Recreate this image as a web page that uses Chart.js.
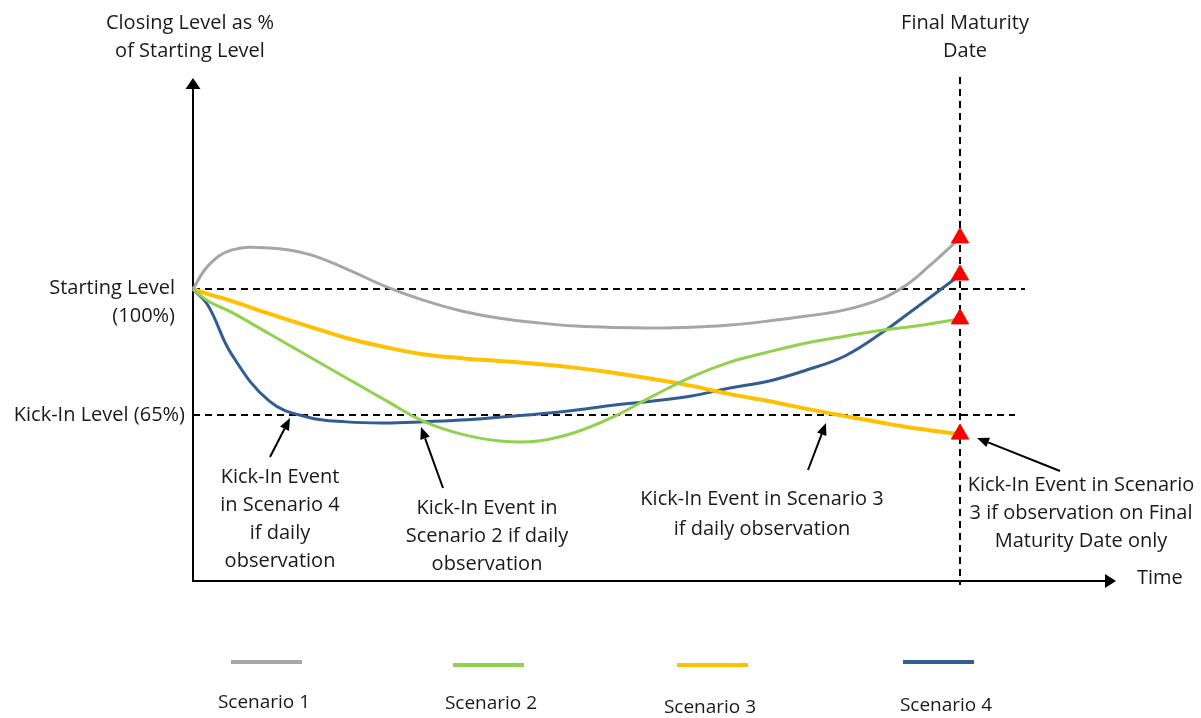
<!DOCTYPE html>
<html>
<head>
<meta charset="utf-8">
<script src="https://cdn.jsdelivr.net/npm/chart.js@4.4.1/dist/chart.umd.min.js"></script>
<style>
  body { margin: 0; background: #fff; }
  canvas { display: block; }
</style>
</head>
<body>
<canvas id="grafico" width="1201" height="718"></canvas>
<script>
// Tiempo (0 = inicio, 100 = Final Maturity Date)
const tiempos = [0, 2, 5, 10, 15, 20, 25, 30, 35, 40, 45, 50, 55, 60, 65, 70, 75, 80, 85, 90, 93, 96, 100];

// Nivel de cierre como % del nivel inicial
const escenario1 = [100, 106.5, 110.8, 111.4, 109.7, 105.6, 100.8, 96.9, 93.9, 91.9, 90.6, 89.7, 89.3, 89.2, 89.4, 90.0, 91.1, 92.5, 94.2, 97.5, 101.1, 106.4, 114.2];
const escenario2 = [100, 96.6, 93.6, 87.5, 81.4, 75.3, 69.2, 63.3, 59.7, 57.8, 57.8, 60.3, 64.7, 70.3, 75.6, 79.7, 82.5, 85.0, 86.9, 88.6, 89.4, 90.3, 91.7];
const escenario3 = [100, 98.6, 96.7, 93.1, 89.7, 86.4, 83.9, 81.9, 80.8, 80.0, 79.2, 78.1, 76.7, 75.0, 73.1, 70.8, 68.9, 66.7, 64.7, 62.8, 61.7, 60.8, 59.7];
const escenario4 = [100, 95.3, 82.0, 68.8, 64.4, 63.1, 62.8, 63.1, 63.6, 64.4, 65.3, 66.4, 67.8, 68.9, 70.3, 72.5, 74.4, 77.5, 81.4, 88.1, 92.8, 97.5, 103.9];

const nombres = ['Scenario 1', 'Scenario 2', 'Scenario 3', 'Scenario 4'];
const colores = ['#a6a6a6', '#92d050', '#ffc000', '#335c91'];
const grosores = [3, 3, 4, 3];

const nivelInicial = 100; // Starting Level
const nivelKickIn = 65;   // Kick-In Level
const fechaFinal = 100;   // Final Maturity Date

const FUENTE = '"Open Sans", "Noto Sans", sans-serif';
const TINTA = '#1a1a1a';

// Construye un dataset por escenario, con un triángulo rojo sólo en el último punto
function crearDataset(valores, i) {
    return {
        label: nombres[i],
        data: tiempos.map((t, k) => ({ x: t, y: valores[k] })),
        borderColor: colores[i],
        borderWidth: grosores[i],
        tension: 0.4,
        pointStyle: 'triangle',
        pointRadius: tiempos.map((t, k) => k === tiempos.length - 1 ? 10 : 0),
        pointBackgroundColor: '#ff0000',
        pointBorderColor: '#ff0000',
        pointBorderWidth: 1,
        clip: false
    };
}

// Dibuja una flecha de (x1,y1) a la punta (x2,y2)
function flecha(ctx, x1, y1, x2, y2, largo, ancho) {
    const ang = Math.atan2(y2 - y1, x2 - x1);
    const bx = x2 - Math.cos(ang) * largo;
    const by = y2 - Math.sin(ang) * largo;
    ctx.beginPath();
    ctx.moveTo(x1, y1);
    ctx.lineTo(bx, by);
    ctx.stroke();
    ctx.beginPath();
    ctx.moveTo(x2, y2);
    ctx.lineTo(bx + Math.sin(ang) * ancho, by - Math.cos(ang) * ancho);
    ctx.lineTo(bx - Math.sin(ang) * ancho, by + Math.cos(ang) * ancho);
    ctx.closePath();
    ctx.fill();
}

// Texto en varias líneas
function textoLineas(ctx, lineas, x, y, salto, alineacion) {
    ctx.textAlign = alineacion;
    lineas.forEach((l, i) => ctx.fillText(l, x, y + i * salto));
}

const decoracion = {
    id: 'decoracion',
    beforeDatasetsDraw(chart) {
        const ctx = chart.ctx;
        const sx = chart.scales.x, sy = chart.scales.y;
        const x0 = sx.getPixelForValue(0);
        const yBase = sy.bottom;
        ctx.save();
        ctx.strokeStyle = '#000';
        ctx.fillStyle = '#000';
        ctx.lineWidth = 2;

        // Líneas discontinuas de referencia
        ctx.setLineDash([7, 5]);
        const yIni = sy.getPixelForValue(nivelInicial);
        const yKick = sy.getPixelForValue(nivelKickIn);
        const xFin = sx.getPixelForValue(fechaFinal);
        ctx.beginPath(); ctx.moveTo(x0, yIni); ctx.lineTo(1025, yIni); ctx.stroke();
        ctx.beginPath(); ctx.moveTo(x0, yKick); ctx.lineTo(1015, yKick); ctx.stroke();
        ctx.beginPath(); ctx.moveTo(xFin, 77); ctx.lineTo(xFin, 585); ctx.stroke();
        ctx.setLineDash([]);

        // Ejes con flecha
        flecha(ctx, x0, yBase + 1, x0, 78, 11, 7.5);
        flecha(ctx, x0 - 1, yBase, 1116, yBase, 11, 7);
        ctx.restore();
    },
    afterDraw(chart) {
        const ctx = chart.ctx;
        ctx.save();
        ctx.fillStyle = TINTA;
        ctx.strokeStyle = '#000';
        ctx.textBaseline = 'middle';
        ctx.font = '20px ' + FUENTE;

        textoLineas(ctx, ['Closing Level as %', 'of Starting Level'], 190, 23, 28, 'center');
        textoLineas(ctx, ['Final Maturity', 'Date'], 965, 23, 28, 'center');
        textoLineas(ctx, ['Starting Level', '(100%)'], 175, 288, 28, 'right');
        textoLineas(ctx, ['Kick-In Level (65%)'], 185, 415, 28, 'right');
        textoLineas(ctx, ['Time'], 1137, 578, 28, 'left');

        textoLineas(ctx, ['Kick-In Event', 'in Scenario 4', 'if daily', 'observation'], 280, 477, 28, 'center');
        textoLineas(ctx, ['Kick-In Event in', 'Scenario 2 if daily', 'observation'], 487, 508, 28, 'center');
        textoLineas(ctx, ['Kick-In Event in Scenario 3', 'if daily observation'], 762, 499, 30, 'center');
        textoLineas(ctx, ['Kick-In Event in Scenario', '3 if observation on Final', 'Maturity Date only'], 1081, 485, 28, 'center');

        // Flechas de las anotaciones
        ctx.fillStyle = '#000';
        ctx.lineWidth = 2;
        flecha(ctx, 270, 457, 290, 418, 12, 5);
        flecha(ctx, 443, 488, 421, 427, 12, 5);
        flecha(ctx, 808, 470, 826, 423, 12, 5);
        flecha(ctx, 1060, 471, 977, 438, 12, 5);

        // Leyenda manual
        ctx.font = '19px ' + FUENTE;
        const leyenda = [[231, 662, 264, 703], [453, 665, 491, 704], [677, 665, 710, 708], [903, 662, 946, 706]];
        leyenda.forEach((p, i) => {
            ctx.strokeStyle = colores[i];
            ctx.lineWidth = 4;
            ctx.beginPath(); ctx.moveTo(p[0], p[1]); ctx.lineTo(p[0] + 71, p[1]); ctx.stroke();
            ctx.fillStyle = TINTA;
            ctx.textAlign = 'center';
            ctx.fillText(nombres[i], p[2], p[3]);
        });
        ctx.restore();
    }
};

const ctx = document.getElementById('grafico').getContext('2d');
const chart = new Chart(ctx, {
    type: 'line',
    data: {
        datasets: [escenario1, escenario2, escenario3, escenario4].map(crearDataset)
    },
    options: {
        responsive: false,
        animation: false,
        layout: { padding: { left: 193, right: 241, top: 80, bottom: 137 } },
        scales: {
            x: { type: 'linear', min: 0, max: 100, display: false },
            y: { min: 18.9, max: 158.06, display: false }
        },
        plugins: {
            legend: { display: false },
            tooltip: { enabled: false }
        }
    },
    plugins: [decoracion]
});
</script>
</body>
</html>
